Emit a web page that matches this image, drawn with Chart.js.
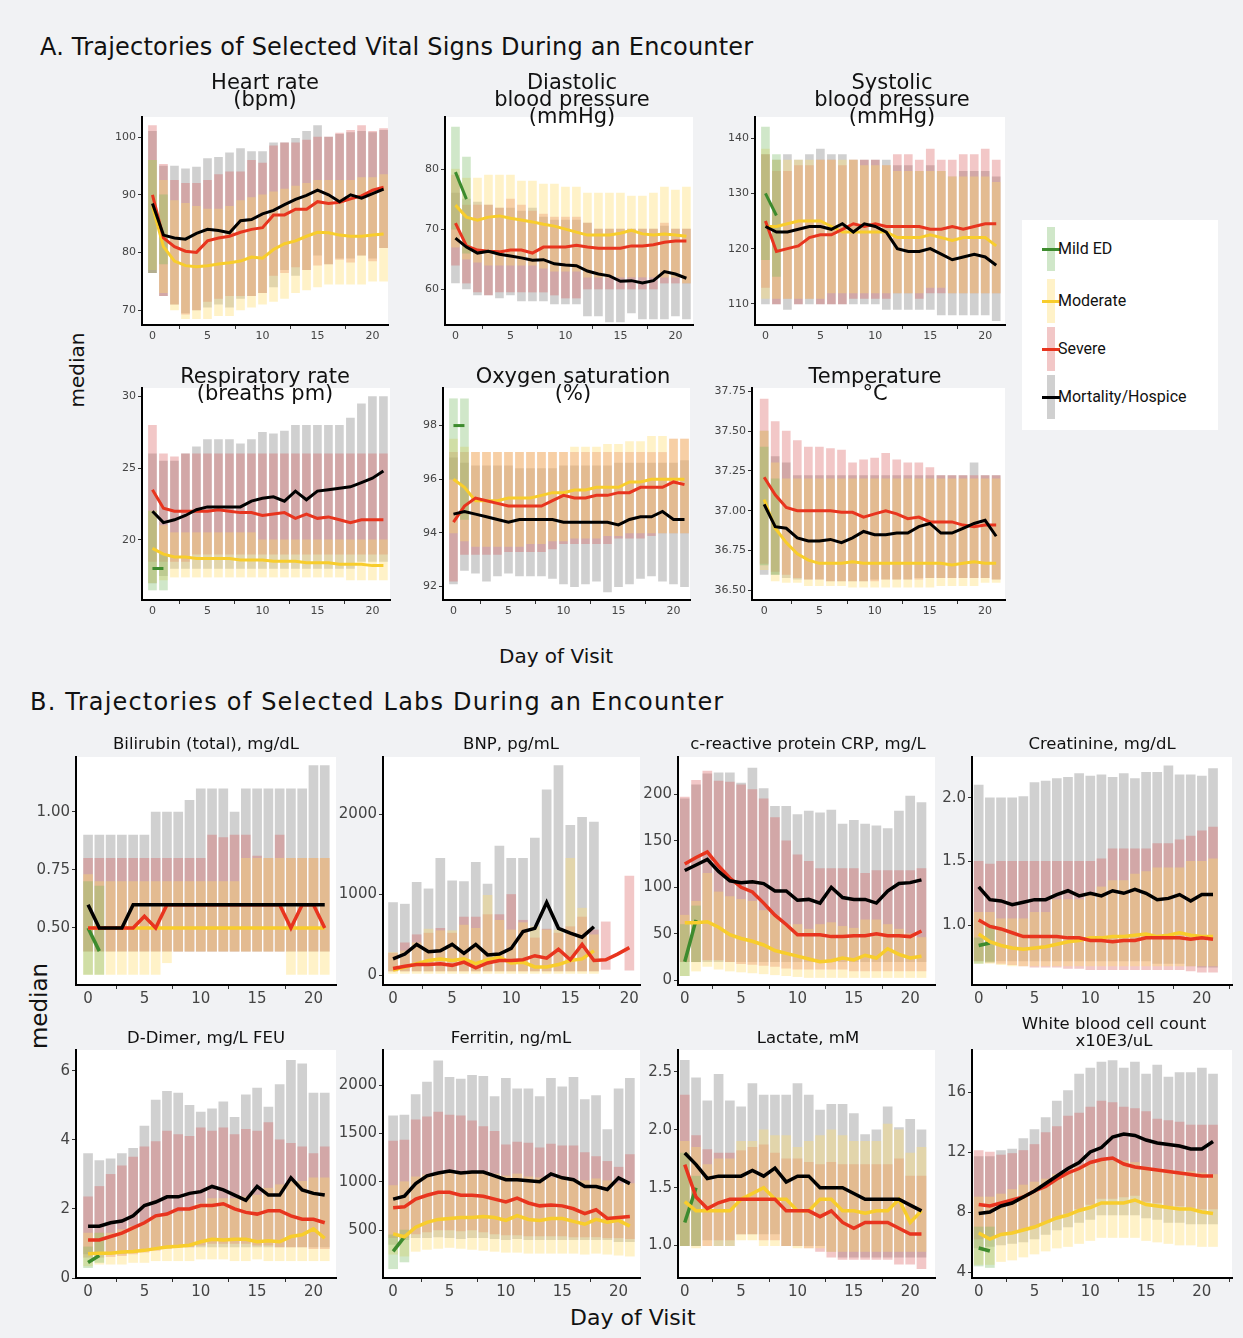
<!DOCTYPE html>
<html lang="en">
<head>
<meta charset="UTF-8">
<title>Trajectories of Vital Signs and Labs</title>
<script src="https://cdn.jsdelivr.net/npm/chart.js"></script>
<style>
  body { margin: 0; background: #f1f2f4; font-family: "DejaVu Sans", sans-serif; }
  #fig { position: relative; width: 1243px; height: 1338px; overflow: hidden; }
  .abs { position: absolute; }
  .ttl { position: absolute; text-align: center; color: #111; white-space: nowrap; }
  .ta { font-size: 21px; line-height: 17px; }
  .tb { font-size: 16.5px; line-height: 17px; }
  .head { position: absolute; font-size: 24px; color: #111; white-space: nowrap; }
  .lab { position: absolute; font-size: 20px; color: #111; }
  #legend { position: absolute; left: 1022px; top: 220px; width: 196px; height: 210px; background: #fff; font-family: Roboto, sans-serif; }
  .li { position: absolute; left: 20px; height: 44px; font-size: 16px; color: #111; }
  .li .bar { position: absolute; left: 5px; top: 0; width: 8px; height: 44px; }
  .li .ln { position: absolute; left: 0; top: 21px; width: 18px; height: 3px; }
  .li span { position: absolute; left: 16px; top: 12px; white-space: nowrap; }
</style>
</head>
<body>
<div id="fig">
  <div class="head" style="left:40px;top:33px;letter-spacing:0.2px;">A. Trajectories of Selected Vital Signs During an Encounter</div>
  <div class="head" style="left:30px;top:688px;letter-spacing:1.2px;">B. Trajectories of Selected Labs During an Encounter</div>
  <div class="lab" style="left:40px;top:358px;transform:rotate(-90deg);">median</div>
  <div class="lab" style="left:-4px;top:993px;transform:rotate(-90deg);font-size:23px;">median</div>
  <div class="lab" style="left:499px;top:644px;">Day of Visit</div>
  <div class="lab" style="left:570px;top:1305px;font-size:22px;">Day of Visit</div>
  <div id="legend"></div>
</div>
<script>
// ---- data: day 0..21, median + IQR (lo/hi) per severity group ----
const days = [0,1,2,3,4,5,6,7,8,9,10,11,12,13,14,15,16,17,18,19,20,21];
const groups = ['Mild ED', 'Moderate', 'Severe', 'Mortality/Hospice'];

// Heart rate
const hr_mort_med = [88.5,83,82.5,82.3,83.3,84,83.8,83.4,85.5,85.7,86.7,87.3,88.3,89.2,89.9,90.8,90,88.8,90,89.4,90.2,91];
const hr_sev_med = [90,82.5,81,80.2,80,82,82.5,82.8,83.5,84,84.3,86.5,86.5,87.5,87.5,88.8,88.5,88.7,89.3,89.8,90.8,91.3];
const hr_mod_med = [88,81,78.5,77.7,77.5,77.7,78,78.2,78.5,79.2,79,80.5,81.5,82,82.8,83.5,83.4,83,82.8,82.8,83,83.2];
const hr_mild_med = [];
const hr_mort_hi = [101,95,95,94.5,94.8,96.3,96.5,97.3,98,97.5,97.5,99,99,99.8,101,102,100,100.5,100.8,101,100.8,101.2];
const hr_mort_lo = [76.5,72.5,71,69.5,70,70.5,71,70.5,72,72.5,73,74,77,76,77,79.5,78,79,79,79.5,79,80.8];
const hr_sev_hi = [102,95.3,92.5,92,92,92.5,93.5,94,94,96,95.5,98.5,99,99,99.5,100,100,100.7,101.2,102,101,101.5];
const hr_sev_lo = [76.5,72.5,71,69.3,70,71.5,72,72.5,72.5,72.5,73,76,76.5,77.5,77,77.8,78,78.8,78.3,79.5,78.5,80.8];
const hr_mod_hi = [96,92.5,89,88.5,88,87.5,87.5,88,89,89.5,90,90.5,91,91.5,92,92.5,92.5,92.5,92.5,93,93,93.5];
const hr_mod_lo = [77,73,70,68.5,68.5,68.5,69,69,70,70.5,71,71.5,72,73,73.5,74,74.5,74.5,74.5,74.5,75,75];
const hr_mild_hi = [96,90];
const hr_mild_lo = [76.5,78];

// Diastolic BP
const dbp_mort_med = [68.5,67,66,66.3,65.8,65.5,65.2,64.8,64.9,64.2,64,63.9,63,62.5,62.2,61.3,61.4,61,61.4,62.9,62.5,61.8];
const dbp_sev_med = [71,67.2,66.5,66.3,66.2,66.5,66.5,66,67,67,67,67.3,67,66.8,66.8,66.8,67.2,67.2,67.4,67.8,68,68];
const dbp_mod_med = [74,72,71.5,72,72.2,71.8,71.5,71.2,70.8,70.5,70,69.5,69,69,69,69.3,69.8,69.2,69,69.2,69,68.8];
const dbp_mild_med = [79.5,75];
const dbp_mort_hi = [76,75,74.5,74,73.5,73.5,73,73.5,72,71.5,71.5,71.5,71,70,70,70,70,70,70,70.5,70,70];
const dbp_mort_lo = [61,60,59,59,58.5,59,58,58,58,57.5,57.5,57.5,55.5,55.5,54.5,54.5,56,55,55,55,55.5,55];
const dbp_sev_hi = [79,74,74,74,73.5,75,74,73,72.5,72,72,72,71,70,70,70,70,70,70,71,70,70];
const dbp_sev_lo = [64,61,59.5,59,59.5,59.5,59.5,59.5,59.5,59,58.5,58.5,60,60,60,60,60,60,60,61,61,61];
const dbp_mod_hi = [80,78.5,78.5,79,79,79,78,78,77.5,77.5,77,77,76,76,76,76,75.5,75.5,76,77,76.5,77];
const dbp_mod_lo = [67,65,64.5,64,64,64,64,64,63.5,63,63,63,62,62,62,62,62,62,62,62,62,61];
const dbp_mild_hi = [87,82];
const dbp_mild_lo = [70,66];

// Systolic BP
const sbp_mort_med = [124,123,123,123.5,124,124,123.5,124.5,123,124.5,124,123,120,119.5,119.5,120,119,118,118.5,119,118.5,117];
const sbp_sev_med = [125,119.5,120,120.5,122,122.5,122.5,123.5,124.5,124,124.5,124,124,124,124,123.5,123.5,124,123.5,124,124.5,124.5];
const sbp_mod_med = [124,124,124.5,125,125,125,124,123,123,123,123,123,122,122,122,122.5,122,121.5,122,122,122,120.5];
const sbp_mild_med = [130,126];
const sbp_mort_hi = [137,136,137,136,137,138,137,137,136,136,136,136,135,135,134,135,134,133,134,134,134,133];
const sbp_mort_lo = [110,110,109,110,110,110,110,110,110,110,110,109,109,109,109,109,108,108,108,108,108,107];
const sbp_sev_hi = [137,134,134,135,135,136,136,135,136,136,136,135,137,137,136,138,136,136,137,137,138,136];
const sbp_sev_lo = [113,110,111,110,111,110,110,110,111,111,111,111,112,112,111,112,112,112,112,112,112,112];
const sbp_mod_hi = [138,136,136,136,136,136,136,136,136,135,135,135,134,134,134,134,134,133,133,133,133,132];
const sbp_mod_lo = [111,111,111,111,111,111,112,112,112,112,112,112,112,112,112,113,113,112,112,112,112,112];
const sbp_mild_hi = [142,137];
const sbp_mild_lo = [118,115];

// Respiratory rate
const rr_mort_med = [22,21.2,21.4,21.7,22.1,22.3,22.3,22.3,22.3,22.7,22.9,23,22.7,23.4,22.8,23.4,23.5,23.6,23.7,24,24.3,24.8];
const rr_sev_med = [23.5,22.2,22,22,22,22,22.1,22,21.9,21.9,21.7,21.8,21.9,21.5,21.8,21.5,21.6,21.4,21.2,21.4,21.4,21.4];
const rr_mod_med = [19.4,19,18.8,18.8,18.7,18.7,18.7,18.7,18.6,18.6,18.6,18.5,18.5,18.5,18.4,18.4,18.4,18.3,18.3,18.3,18.2,18.2];
const rr_mild_med = [18,18];
const rr_mort_hi = [26,25.5,25.5,26,26.5,27,27,27,26.7,27,27.5,27.4,27.6,28,28,28,28,28,28.5,29.5,30,30];
const rr_mort_lo = [17,17.5,18,18,18,18,18,18,18,18,18,18,18,18,18,18,18,18,18,18.5,18.5,18.5];
const rr_sev_hi = [28,26,25.8,26,26,26,26,26,26,26,26,26,26,26,26,26,26,26,26,26,26,26];
const rr_sev_lo = [18.5,18.5,18.5,18.5,19,19,19,19,19,19,19,19,19,19,19,19,19,19,19,19,19,19];
const rr_mod_hi = [22,21,20.5,20.5,20.5,20.5,20.5,20.5,20.5,20.5,20,20,20,20,20,20,20,20,20,20,20,20];
const rr_mod_lo = [17,17.2,17.4,17.4,17.4,17.4,17.4,17.4,17.4,17.4,17.4,17.4,17.4,17.4,17.4,17.4,17.4,17.4,17.2,17.2,17.2,17.2];
const rr_mild_hi = [22,19];
const rr_mild_lo = [16.5,16.5];

// Oxygen saturation
const o2_mort_med = [94.7,94.8,94.7,94.6,94.5,94.4,94.5,94.5,94.5,94.5,94.4,94.4,94.4,94.4,94.4,94.3,94.5,94.6,94.6,94.8,94.5,94.5];
const o2_sev_med = [94.4,95,95.3,95.2,95.1,95,95,95,95,95.2,95.4,95.3,95.3,95.4,95.4,95.5,95.5,95.7,95.7,95.7,95.9,95.8];
const o2_mod_med = [96,95.7,95.2,95.2,95.2,95.3,95.3,95.3,95.4,95.5,95.5,95.6,95.6,95.7,95.7,95.7,95.9,95.9,96,96,96,96];
const o2_mild_med = [98,98];
const o2_mort_hi = [96.8,96.6,96.5,96.5,96.5,96.5,96.4,96.4,96.4,96.4,96.5,96.5,96.5,96.5,96.5,96.6,96.6,96.6,96.6,96.6,96.6,96.7];
const o2_mort_lo = [92.1,92.6,92.5,92.2,92.4,92.5,92.4,92.4,92.4,92.3,92.1,92,92.1,92.2,91.8,92,92.1,92.3,92.4,92.2,92.1,92];
const o2_sev_hi = [97,97,97,97,97,97,97,97,97,97,97,97,97,97,97,97,97,97,97,97,97.5,97.5];
const o2_sev_lo = [92.2,93.2,93.2,93.2,93.2,93.3,93.3,93.3,93.3,93.4,93.6,93.6,93.6,93.6,93.6,93.8,93.8,93.8,93.9,94,94,94];
const o2_mod_hi = [97.5,97.2,97,97,97,97,97,97,97,97,97,97.2,97.2,97.2,97.3,97.3,97.4,97.4,97.6,97.6,97.5,97.5];
const o2_mod_lo = [94,93.7,93.5,93.5,93.5,93.5,93.5,93.6,93.6,93.7,93.7,93.8,93.8,93.8,93.9,93.9,94,94,94,94,94,94];
const o2_mild_hi = [99,99];
const o2_mild_lo = [96,94.5];

// Temperature
const tmp_mort_med = [37.04,36.9,36.89,36.83,36.81,36.81,36.82,36.8,36.83,36.87,36.85,36.85,36.86,36.86,36.9,36.92,36.86,36.86,36.89,36.92,36.94,36.84];
const tmp_sev_med = [37.21,37.1,37.02,37,37,37,37,36.99,36.99,36.96,36.98,37,36.98,36.95,36.96,36.93,36.93,36.93,36.91,36.9,36.91,36.91];
const tmp_mod_med = [37.07,36.89,36.8,36.73,36.69,36.67,36.67,36.67,36.68,36.67,36.67,36.67,36.67,36.67,36.67,36.67,36.67,36.66,36.67,36.68,36.67,36.67];
const tmp_mild_med = [];
const tmp_mort_hi = [37.5,37.34,37.3,37.22,37.22,37.22,37.22,37.22,37.22,37.22,37.22,37.22,37.22,37.22,37.22,37.22,37.22,37.22,37.22,37.3,37.22,37.22];
const tmp_mort_lo = [36.6,36.6,36.58,36.57,36.57,36.57,36.56,36.56,36.56,36.56,36.57,36.57,36.57,36.57,36.58,36.58,36.58,36.58,36.58,36.58,36.58,36.57];
const tmp_sev_hi = [37.7,37.56,37.5,37.44,37.4,37.4,37.39,37.38,37.3,37.32,37.33,37.36,37.32,37.3,37.3,37.27,37.22,37.22,37.22,37.22,37.22,37.22];
const tmp_sev_lo = [36.67,36.62,36.6,36.58,36.57,36.57,36.56,36.56,36.56,36.56,36.56,36.57,36.57,36.57,36.57,36.58,36.58,36.58,36.58,36.58,36.58,36.57];
const tmp_mod_hi = [37.5,37.3,37.2,37.2,37.2,37.2,37.2,37.2,37.2,37.2,37.2,37.2,37.2,37.2,37.2,37.2,37.2,37.2,37.2,37.2,37.2,37.2];
const tmp_mod_lo = [36.63,36.56,36.55,36.55,36.53,36.53,36.53,36.53,36.52,36.52,36.52,36.52,36.52,36.52,36.52,36.52,36.53,36.53,36.53,36.53,36.55,36.55];
const tmp_mild_hi = [37.4,37.2];
const tmp_mild_lo = [36.66,36.6];

// Bilirubin
const bil_mort_med = [0.6,0.5,0.5,0.5,0.6,0.6,0.6,0.6,0.6,0.6,0.6,0.6,0.6,0.6,0.6,0.6,0.6,0.6,0.6,0.6,0.6,0.6];
const bil_sev_med = [0.5,0.5,0.5,0.5,0.5,0.55,0.5,0.6,0.6,0.6,0.6,0.6,0.6,0.6,0.6,0.6,0.6,0.6,0.5,0.6,0.6,0.5];
const bil_mod_med = [0.5,0.5,0.5,0.5,0.5,0.5,0.5,0.5,0.5,0.5,0.5,0.5,0.5,0.5,0.5,0.5,0.5,0.5,0.5,0.5,0.5,0.5];
const bil_mild_med = [0.5,0.4];
const bil_mort_hi = [0.9,0.9,0.9,0.9,0.9,0.9,1,1,1,1.05,1.1,1.1,1.1,1,1.1,1.1,1.1,1.1,1.1,1.1,1.2,1.2];
const bil_mort_lo = [0.4,0.4,0.4,0.4,0.4,0.4,0.4,0.4,0.4,0.4,0.4,0.4,0.4,0.4,0.4,0.4,0.4,0.4,0.4,0.4,0.4,0.4];
const bil_sev_hi = [0.8,0.8,0.8,0.8,0.8,0.8,0.8,0.8,0.8,0.8,0.8,0.9,0.89,0.9,0.9,0.81,0.8,0.9,0.8,0.8,0.8,0.8];
const bil_sev_lo = [0.4,0.4,0.4,0.4,0.4,0.4,0.4,0.4,0.4,0.4,0.4,0.4,0.4,0.4,0.4,0.4,0.4,0.4,0.4,0.4,0.4,0.4];
const bil_mod_hi = [0.73,0.7,0.7,0.7,0.7,0.7,0.7,0.7,0.7,0.7,0.7,0.7,0.7,0.7,0.8,0.8,0.8,0.8,0.8,0.8,0.8,0.8];
const bil_mod_lo = [0.3,0.3,0.3,0.3,0.3,0.3,0.3,0.35,0.4,0.4,0.4,0.4,0.4,0.4,0.4,0.4,0.4,0.4,0.3,0.3,0.3,0.3];
const bil_mild_hi = [0.7,0.68];
const bil_mild_lo = [0.3,0.3];

// BNP
const bnp_mort_med = [200,260,380,290,300,380,270,380,250,260,330,540,580,900,580,520,470,600];
const bnp_sev_med = [80,110,130,130,140,120,160,90,150,180,180,190,240,210,320,190,380,180,190,260,340];
const bnp_mod_med = [60,100,140,180,200,180,200,140,190,220,150,160,100,100,130,180,200,300];
const bnp_mild_med = [];
const bnp_mort_hi = [900,880,1150,1070,1450,1170,1160,1400,1130,1600,1450,1450,1700,2300,2600,1860,1960,1900];
const bnp_mort_lo = [50,50,50,50,50,50,50,50,50,50,50,50,50,50,50,50,50,50];
const bnp_sev_hi = [270,400,500,520,580,520,720,720,750,750,1000,680,460,570,520,600,720,560,660,null,1230];
const bnp_sev_lo = [50,50,50,50,50,50,50,50,50,50,50,50,50,50,50,50,50,50,70,null,60];
const bnp_mod_hi = [280,300,400,570,550,550,620,580,990,680,560,650,600,560,560,1450,830,500];
const bnp_mod_lo = [20,20,20,20,20,20,20,20,20,20,20,20,20,20,20,20,20,20];
const bnp_mild_hi = [];
const bnp_mild_lo = [];

// CRP
const crp_mort_med = [118,124,130,117,107,105,106,104,96,96,86,87,83,100,89,87,87,83,96,104,105,108];
const crp_sev_med = [125,132,138,123,110,100,95,83,70,60,49,49,49,47,47,48,48,50,48,48,47,53];
const crp_mod_med = [62,62,63,57,49,45,42,38,32,29,26,23,20,21,24,22,27,24,34,28,24,26];
const crp_mild_med = [20,65];
const crp_mort_hi = [195,210,222,223,223,212,228,206,187,187,178,182,180,183,168,172,168,166,163,182,198,191];
const crp_mort_lo = [20,20,20,20,20,20,20,20,20,20,20,20,20,20,20,20,20,20,20,20,20,20];
const crp_sev_hi = [197,215,225,214,213,210,205,195,175,150,135,128,120,120,120,120,115,118,118,118,118,120];
const crp_sev_lo = [20,20,22,22,20,18,17,16,15,13,12,12,12,12,12,10,10,10,10,10,10,10];
const crp_mod_hi = [70,85,115,95,90,87,85,75,70,60,60,55,60,62,58,56,65,65,60,55,50,46];
const crp_mod_lo = [5,10,15,12,10,9,8,7,6,5,4,3,3,3,3,3,3,3,3,3,3,3];
const crp_mild_hi = [60,80];
const crp_mild_lo = [5,20];

// Creatinine
const cre_mort_med = [1.3,1.2,1.19,1.16,1.18,1.2,1.2,1.24,1.27,1.23,1.25,1.23,1.27,1.25,1.28,1.25,1.2,1.21,1.24,1.19,1.24,1.24];
const cre_sev_med = [1.04,0.99,0.97,0.94,0.91,0.91,0.91,0.91,0.9,0.9,0.88,0.88,0.87,0.88,0.88,0.9,0.9,0.9,0.9,0.89,0.9,0.89];
const cre_mod_med = [0.93,0.87,0.84,0.82,0.81,0.82,0.83,0.85,0.87,0.88,0.9,0.9,0.91,0.91,0.92,0.93,0.91,0.92,0.94,0.92,0.91,0.91];
const cre_mild_med = [0.84,0.86];
const cre_mort_hi = [2.1,2.0,2.0,2.0,2.01,2.12,2.13,2.15,2.16,2.19,2.17,2.18,2.16,2.19,2.15,2.2,2.2,2.25,2.18,2.18,2.17,2.23];
const cre_mort_lo = [0.72,0.72,0.72,0.72,0.72,0.72,0.72,0.72,0.72,0.72,0.72,0.72,0.72,0.72,0.72,0.72,0.7,0.7,0.7,0.68,0.67,0.67];
const cre_sev_hi = [1.5,1.48,1.5,1.5,1.5,1.5,1.5,1.5,1.5,1.5,1.5,1.52,1.6,1.6,1.6,1.6,1.64,1.64,1.67,1.7,1.74,1.77];
const cre_sev_lo = [0.72,0.71,0.7,0.69,0.68,0.67,0.67,0.67,0.66,0.66,0.65,0.65,0.65,0.65,0.65,0.65,0.65,0.65,0.65,0.64,0.63,0.63];
const cre_mod_hi = [1.1,1.1,1.05,1.05,1.05,1.1,1.1,1.2,1.2,1.2,1.25,1.3,1.35,1.35,1.4,1.42,1.45,1.45,1.45,1.5,1.5,1.52];
const cre_mod_lo = [0.7,0.7,0.69,0.68,0.68,0.68,0.68,0.68,0.68,0.68,0.68,0.68,0.68,0.68,0.68,0.68,0.68,0.68,0.68,0.68,0.68,0.68];
const cre_mild_hi = [0.9,1.0];
const cre_mild_lo = [0.7,0.71];

// D-Dimer
const dd_mort_med = [1.5,1.5,1.6,1.65,1.8,2.1,2.2,2.35,2.35,2.45,2.5,2.65,2.55,2.4,2.25,2.65,2.4,2.4,2.9,2.55,2.45,2.4];
const dd_sev_med = [1.1,1.1,1.2,1.3,1.45,1.6,1.8,1.85,2.0,2.0,2.1,2.1,2.15,2.0,1.9,1.85,1.95,1.95,1.8,1.7,1.7,1.6];
const dd_mod_med = [0.7,0.72,0.72,0.75,0.77,0.8,0.85,0.9,0.92,0.95,1.05,1.12,1.1,1.12,1.12,1.05,1.08,1.05,1.2,1.25,1.42,1.15];
const dd_mild_med = [0.45,0.65];
const dd_mort_hi = [3.6,3.4,3.45,3.6,3.75,4.4,5.15,5.4,5.35,5.0,4.8,4.9,5.1,4.65,5.3,5.5,4.95,5.6,6.3,6.2,5.35,5.35];
const dd_mort_lo = [0.7,0.7,0.7,0.7,0.75,0.8,0.85,0.9,0.9,0.9,0.9,0.9,0.9,0.9,0.9,0.9,0.9,0.9,0.9,0.9,0.9,0.9];
const dd_sev_hi = [2.35,2.65,3.0,3.25,3.5,3.8,3.95,4.25,4.15,4.1,4.35,4.25,4.35,4.15,4.3,4.25,4.5,4.0,3.9,3.8,3.6,3.8];
const dd_sev_lo = [0.6,0.6,0.62,0.65,0.7,0.75,0.8,0.85,0.9,0.9,0.95,1.0,1.0,1.0,1.0,0.95,0.95,0.9,0.9,0.9,0.85,0.85];
const dd_mod_hi = [1.3,1.3,1.3,1.4,1.5,1.6,1.75,1.85,1.9,2.0,2.15,2.3,2.3,2.3,2.35,2.4,2.6,2.7,2.8,2.8,2.9,2.9];
const dd_mod_lo = [0.35,0.4,0.4,0.4,0.45,0.45,0.5,0.5,0.5,0.5,0.55,0.55,0.55,0.5,0.5,0.55,0.5,0.5,0.5,0.5,0.5,0.5];
const dd_mild_hi = [0.9,1.3];
const dd_mild_lo = [0.3,0.45];

// Ferritin
const fer_mort_med = [820,850,980,1060,1090,1110,1090,1100,1100,1060,1020,1020,1010,1000,1080,1040,1020,950,950,920,1040,980];
const fer_sev_med = [730,740,820,860,890,890,860,860,850,820,790,830,780,750,760,750,720,670,710,620,630,640];
const fer_mod_med = [460,430,530,580,610,620,630,630,640,630,600,650,610,600,620,620,590,560,610,580,600,540];
const fer_mild_med = [280,430];
const fer_mort_hi = [1680,1690,1900,2030,2250,2080,2060,2100,2090,1880,2070,1960,1960,1880,2070,1980,2080,1850,1890,1540,1960,2070];
const fer_mort_lo = [350,400,420,420,430,420,410,420,420,410,400,410,400,400,400,400,400,400,400,400,380,380];
const fer_sev_hi = [1420,1430,1640,1670,1720,1690,1680,1630,1570,1520,1380,1410,1400,1350,1390,1370,1370,1300,1260,1210,1150,1280];
const fer_sev_lo = [420,420,460,480,500,500,490,500,480,460,450,450,440,440,440,440,430,430,430,420,420,410];
const fer_mod_hi = [960,1000,1050,1070,1080,1090,1100,1110,1100,1080,1060,1080,1050,1040,1040,1050,1020,1010,1030,1010,980,980];
const fer_mod_lo = [250,230,280,300,310,320,310,300,290,280,270,270,260,260,260,260,260,250,260,250,240,230];
const fer_mild_hi = [450,500];
const fer_mild_lo = [100,170];

// Lactate
const lac_mort_med = [1.8,1.7,1.58,1.6,1.6,1.6,1.65,1.6,1.67,1.55,1.6,1.6,1.5,1.5,1.5,1.45,1.4,1.4,1.4,1.4,1.35,1.3];
const lac_sev_med = [1.7,1.42,1.32,1.37,1.4,1.4,1.4,1.4,1.4,1.3,1.3,1.3,1.25,1.3,1.2,1.15,1.2,1.2,1.2,1.15,1.1,1.1];
const lac_mod_med = [1.38,1.3,1.3,1.3,1.3,1.4,1.45,1.5,1.4,1.4,1.3,1.3,1.4,1.4,1.3,1.3,1.28,1.3,1.3,1.4,1.2,1.3];
const lac_mild_med = [1.2,1.5];
const lac_mort_hi = [2.6,2.45,2.25,2.48,2.25,2.2,2.4,2.3,2.3,2.3,2.4,2.3,2.17,2.22,2.22,2.14,1.96,2.0,2.2,2.02,2.09,2.0];
const lac_mort_lo = [1.0,1.0,1.05,1.0,1.0,1.1,1.1,1.1,1.1,1.0,1.0,1.0,1.0,0.95,0.9,0.9,0.9,0.9,0.9,0.9,0.9,0.9];
const lac_sev_hi = [2.3,1.95,1.83,1.8,1.8,1.82,1.85,1.87,1.8,1.75,1.75,1.72,1.7,1.72,1.7,1.7,1.7,1.7,1.7,1.75,1.6,1.6];
const lac_sev_lo = [1.0,1.0,1.0,1.05,1.05,1.1,1.1,1.05,1.05,1.0,1.0,0.98,0.95,0.9,0.88,0.88,0.88,0.88,0.88,0.84,0.84,0.8];
const lac_mod_hi = [1.9,1.85,1.7,1.75,1.75,1.9,1.9,2.0,1.95,1.95,1.85,1.9,1.95,2.0,1.95,1.9,1.9,1.9,2.05,2.0,1.8,1.85];
const lac_mod_lo = [1.0,0.98,1.0,1.0,1.0,1.05,1.05,1.0,1.0,1.0,0.98,0.98,0.98,0.95,0.95,0.95,0.95,0.95,0.95,0.95,0.95,0.95];
const lac_mild_hi = [1.8,1.6];
const lac_mild_lo = [1.0,1.0];

// White blood cell count
const wbc_mort_med = [7.9,8.0,8.4,8.6,9.0,9.4,9.9,10.4,10.9,11.3,12.0,12.3,13.0,13.2,13.1,12.8,12.6,12.5,12.4,12.2,12.2,12.7];
const wbc_sev_med = [8.5,8.4,8.6,8.8,9.0,9.4,9.7,10.2,10.6,10.9,11.3,11.5,11.6,11.2,11.0,10.9,10.8,10.7,10.6,10.5,10.4,10.4];
const wbc_mod_med = [6.6,6.2,6.5,6.6,6.8,7.0,7.3,7.6,7.8,8.1,8.3,8.6,8.6,8.6,8.8,8.5,8.4,8.3,8.2,8.2,8.0,7.9];
const wbc_mild_med = [5.6,5.4];
const wbc_mort_hi = [11.7,11.7,12.1,12.2,12.9,13.5,14.3,15.4,16.1,17.2,17.6,18.0,18.1,17.6,18.0,17.2,17.8,17.0,17.3,17.3,17.6,17.2];
const wbc_mort_lo = [5.6,5.7,5.8,5.9,6.0,6.2,6.5,6.8,7.0,7.3,7.5,7.8,7.8,7.8,7.8,7.6,7.5,7.3,7.3,7.2,7.2,7.2];
const wbc_sev_hi = [12.1,12.0,11.8,11.9,12.1,12.5,13.3,13.7,14.4,14.6,15.0,15.4,15.3,15.0,14.9,14.7,14.2,14.1,14.0,13.8,13.8,13.8];
const wbc_sev_lo = [6.2,6.3,6.5,6.6,6.8,7.0,7.3,7.6,7.9,8.2,8.5,8.9,8.9,9.0,9.1,8.7,8.6,8.4,8.4,8.3,8.2,8.2];
const wbc_mod_hi = [9.0,9.0,9.2,9.5,9.8,10.0,10.2,10.5,10.7,11.0,11.2,11.4,11.4,11.4,11.3,11.0,10.9,10.8,10.7,10.7,10.6,10.5];
const wbc_mod_lo = [4.5,4.5,4.7,4.8,5.0,5.2,5.4,5.6,5.7,5.9,6.1,6.3,6.3,6.3,6.3,6.1,6.0,5.9,5.8,5.8,5.7,5.7];
const wbc_mild_hi = [7.0,7.0];
const wbc_mild_lo = [4.4,4.3];

// ---- styles ----
const barCol = ['rgba(120,185,100,0.35)', 'rgba(255,222,110,0.38)', 'rgba(215,85,85,0.33)', 'rgba(150,150,150,0.45)'];
const lineCol = ['#3d8b2e', '#f8cd2c', '#e8341e', '#000000'];
const PAD = 12; // room above the plot area for the top tick label

function pts(arr) { return arr.map((v, i) => ({ x: days[i], y: v })); }
function rng(lo, hi) { return lo.map((v, i) => ({ x: days[i], y: (v == null || hi[i] == null) ? null : [v, hi[i]] })); }

const whiteBg = {
  id: 'whiteBg',
  beforeDraw(c) {
    const a = c.chartArea, ctx = c.ctx;
    ctx.save(); ctx.fillStyle = '#fff';
    ctx.fillRect(a.left, a.top, a.right - a.left, a.bottom - a.top);
    ctx.restore();
  }
};

function panel(o) {
  const fig = document.getElementById('fig');
  const W = o.w + o.yw + 10, H = o.h + o.xh + PAD;
  const box = document.createElement('div');
  box.className = 'abs';
  box.style.left = (o.left - o.yw) + 'px'; box.style.top = (o.top - PAD) + 'px';
  box.style.width = W + 'px'; box.style.height = H + 'px';
  const cv = document.createElement('canvas');
  cv.width = W; cv.height = H;
  cv.style.width = W + 'px'; cv.style.height = H + 'px';
  box.appendChild(cv);
  fig.appendChild(box);

  const t = document.createElement('div');
  t.className = 'ttl ' + o.tcls;
  t.style.left = (o.tx - 200) + 'px'; t.style.width = '400px'; t.style.top = o.ty + 'px';
  t.innerHTML = o.title;
  fig.appendChild(t);

  const s = o.s, bt = o.bt;
  const ds = [];
  // bars: mortality first, then severe, moderate, mild
  [[s[3], 3], [s[2], 2], [s[1], 1], [s[0], 0]].forEach(([g, k]) => {
    ds.push({ type: 'bar', data: rng(g.lo, g.hi), backgroundColor: barCol[k], grouped: false,
              barThickness: bt, borderWidth: 0, order: 10 + k });
  });
  [[s[0], 0, 3], [s[1], 1, 2], [s[2], 2, 1], [s[3], 3, 0]].forEach(([g, k, ord]) => {
    ds.push({ type: 'line', data: pts(g.med), borderColor: lineCol[k], borderWidth: o.lw,
              pointRadius: 0, fill: false, tension: 0, spanGaps: false, order: ord });
  });

  new Chart(cv, {
    data: { datasets: ds },
    options: {
      responsive: false, maintainAspectRatio: false, animation: false,
      layout: { padding: { top: PAD, right: 10, left: 0, bottom: 0 } },
      plugins: { legend: { display: false }, tooltip: { enabled: false } },
      scales: {
        x: {
          type: 'linear', min: o.xmin, max: o.xmax, offset: false,
          grid: { display: true, drawOnChartArea: false, drawTicks: true, tickLength: 4, color: '#333' },
          border: { display: true, color: '#000', width: 2 },
          ticks: { color: '#444', font: { size: o.fs, family: 'DejaVu Sans' }, padding: 1, maxRotation: 0 },
          afterBuildTicks: sc => { sc.ticks = [0, 5, 10, 15, 20].map(v => ({ value: v })); },
          afterFit: sc => { sc.height = o.xh; }
        },
        y: {
          min: o.ymin, max: o.ymax,
          grid: { display: true, drawOnChartArea: false, drawTicks: true, tickLength: 4, color: '#333' },
          border: { display: true, color: '#000', width: 2 },
          ticks: { color: '#444', font: { size: o.fs, family: 'DejaVu Sans' }, padding: 2,
                   callback: v => o.fmt ? o.fmt(v) : v },
          afterBuildTicks: sc => { sc.ticks = o.yt.map(v => ({ value: v })); },
          afterFit: sc => { sc.width = o.yw; }
        }
      }
    },
    plugins: [whiteBg]
  });
}

function G(med, lo, hi) { return { med, lo, hi }; }

const A = { yw: 42, xh: 22, fs: 11, bt: 8, lw: 3, tcls: 'ta' };
const B = { yw: 46, xh: 26, fs: 15, bt: 9, lw: 3.5, tcls: 'tb' };

panel({ ...A, left: 142, top: 117, w: 246, h: 208, xmin: -0.95, xmax: 21.4, ymin: 67.4, ymax: 103.5, yt: [70, 80, 90, 100],
  title: 'Heart rate<br>(bpm)', tx: 265, ty: 74,
  s: [G(hr_mild_med, hr_mild_lo, hr_mild_hi), G(hr_mod_med, hr_mod_lo, hr_mod_hi), G(hr_sev_med, hr_sev_lo, hr_sev_hi), G(hr_mort_med, hr_mort_lo, hr_mort_hi)] });
panel({ ...A, left: 445, top: 117, w: 248, h: 208, xmin: -0.95, xmax: 21.6, ymin: 54, ymax: 88.7, yt: [60, 70, 80],
  title: 'Diastolic<br>blood pressure<br>(mmHg)', tx: 572, ty: 74,
  s: [G(dbp_mild_med, dbp_mild_lo, dbp_mild_hi), G(dbp_mod_med, dbp_mod_lo, dbp_mod_hi), G(dbp_sev_med, dbp_sev_lo, dbp_sev_hi), G(dbp_mort_med, dbp_mort_lo, dbp_mort_hi)] });
panel({ ...A, left: 755, top: 117, w: 250, h: 208, xmin: -0.95, xmax: 21.8, ymin: 106.2, ymax: 143.8, yt: [110, 120, 130, 140],
  title: 'Systolic<br>blood pressure<br>(mmHg)', tx: 892, ty: 74,
  s: [G(sbp_mild_med, sbp_mild_lo, sbp_mild_hi), G(sbp_mod_med, sbp_mod_lo, sbp_mod_hi), G(sbp_sev_med, sbp_sev_lo, sbp_sev_hi), G(sbp_mort_med, sbp_mort_lo, sbp_mort_hi)] });
panel({ ...A, left: 142, top: 388, w: 248, h: 212, xmin: -0.95, xmax: 21.6, ymin: 15.8, ymax: 30.6, yt: [20, 25, 30],
  title: 'Respiratory rate<br>(breaths pm)', tx: 265, ty: 368,
  s: [G(rr_mild_med, rr_mild_lo, rr_mild_hi), G(rr_mod_med, rr_mod_lo, rr_mod_hi), G(rr_sev_med, rr_sev_lo, rr_sev_hi), G(rr_mort_med, rr_mort_lo, rr_mort_hi)] });
panel({ ...A, left: 443, top: 388, w: 247, h: 212, xmin: -0.95, xmax: 21.5, ymin: 91.5, ymax: 99.4, yt: [92, 94, 96, 98],
  title: 'Oxygen saturation<br>(%)', tx: 573, ty: 368,
  s: [G(o2_mild_med, o2_mild_lo, o2_mild_hi), G(o2_mod_med, o2_mod_lo, o2_mod_hi), G(o2_sev_med, o2_sev_lo, o2_sev_hi), G(o2_mort_med, o2_mort_lo, o2_mort_hi)] });
panel({ ...A, left: 752, top: 388, w: 253, h: 212, xmin: -1.1, xmax: 21.8, ymin: 36.44, ymax: 37.77, yt: [36.5, 36.75, 37, 37.25, 37.5, 37.75],
  fmt: v => v.toFixed(2), title: 'Temperature<br>°C', tx: 875, ty: 368,
  s: [G(tmp_mild_med, tmp_mild_lo, tmp_mild_hi), G(tmp_mod_med, tmp_mod_lo, tmp_mod_hi), G(tmp_sev_med, tmp_sev_lo, tmp_sev_hi), G(tmp_mort_med, tmp_mort_lo, tmp_mort_hi)] });

panel({ ...B, left: 76, top: 757, w: 260, h: 228, xmin: -1.07, xmax: 22.0, ymin: 0.254, ymax: 1.237, yt: [0.5, 0.75, 1.0],
  fmt: v => v.toFixed(2), title: 'Bilirubin (total), mg/dL', tx: 206, ty: 735,
  s: [G(bil_mild_med, bil_mild_lo, bil_mild_hi), G(bil_mod_med, bil_mod_lo, bil_mod_hi), G(bil_sev_med, bil_sev_lo, bil_sev_hi), G(bil_mort_med, bil_mort_lo, bil_mort_hi)] });
panel({ ...B, left: 383, top: 757, w: 257, h: 228, xmin: -0.85, xmax: 20.9, ymin: -124, ymax: 2708, yt: [0, 1000, 2000],
  title: 'BNP, pg/mL', tx: 511, ty: 735,
  s: [G(bnp_mild_med, bnp_mild_lo, bnp_mild_hi), G(bnp_mod_med, bnp_mod_lo, bnp_mod_hi), G(bnp_sev_med, bnp_sev_lo, bnp_sev_hi), G(bnp_mort_med, bnp_mort_lo, bnp_mort_hi)] });
panel({ ...B, left: 678, top: 757, w: 257, h: 228, xmin: -0.6, xmax: 22.2, ymin: -5, ymax: 240, yt: [0, 50, 100, 150, 200],
  title: 'c-reactive protein CRP, mg/L', tx: 808, ty: 735,
  s: [G(crp_mild_med, crp_mild_lo, crp_mild_hi), G(crp_mod_med, crp_mod_lo, crp_mod_hi), G(crp_sev_med, crp_sev_lo, crp_sev_hi), G(crp_mort_med, crp_mort_lo, crp_mort_hi)] });
panel({ ...B, left: 972, top: 757, w: 260, h: 228, xmin: -0.6, xmax: 22.7, ymin: 0.53, ymax: 2.32, yt: [1.0, 1.5, 2.0],
  fmt: v => v.toFixed(1), title: 'Creatinine, mg/dL', tx: 1102, ty: 735,
  s: [G(cre_mild_med, cre_mild_lo, cre_mild_hi), G(cre_mod_med, cre_mod_lo, cre_mod_hi), G(cre_sev_med, cre_sev_lo, cre_sev_hi), G(cre_mort_med, cre_mort_lo, cre_mort_hi)] });

panel({ ...B, left: 76, top: 1050, w: 260, h: 228, xmin: -1.07, xmax: 22.0, ymin: 0, ymax: 6.6, yt: [0, 2, 4, 6],
  title: 'D-Dimer, mg/L FEU', tx: 206, ty: 1029,
  s: [G(dd_mild_med, dd_mild_lo, dd_mild_hi), G(dd_mod_med, dd_mod_lo, dd_mod_hi), G(dd_sev_med, dd_sev_lo, dd_sev_hi), G(dd_mort_med, dd_mort_lo, dd_mort_hi)] });
panel({ ...B, left: 383, top: 1050, w: 257, h: 228, xmin: -0.9, xmax: 21.9, ymin: 4, ymax: 2362, yt: [500, 1000, 1500, 2000],
  title: 'Ferritin, ng/mL', tx: 511, ty: 1029,
  s: [G(fer_mild_med, fer_mild_lo, fer_mild_hi), G(fer_mod_med, fer_mod_lo, fer_mod_hi), G(fer_sev_med, fer_sev_lo, fer_sev_hi), G(fer_mort_med, fer_mort_lo, fer_mort_hi)] });
panel({ ...B, left: 678, top: 1050, w: 257, h: 228, xmin: -0.6, xmax: 22.2, ymin: 0.72, ymax: 2.69, yt: [1.0, 1.5, 2.0, 2.5],
  fmt: v => v.toFixed(1), title: 'Lactate, mM', tx: 808, ty: 1029,
  s: [G(lac_mild_med, lac_mild_lo, lac_mild_hi), G(lac_mod_med, lac_mod_lo, lac_mod_hi), G(lac_sev_med, lac_sev_lo, lac_sev_hi), G(lac_mort_med, lac_mort_lo, lac_mort_hi)] });
panel({ ...B, left: 972, top: 1050, w: 260, h: 228, xmin: -0.6, xmax: 22.7, ymin: 3.6, ymax: 18.8, yt: [4, 8, 12, 16],
  title: 'White blood cell count<br>x10E3/uL', tx: 1114, ty: 1015,
  s: [G(wbc_mild_med, wbc_mild_lo, wbc_mild_hi), G(wbc_mod_med, wbc_mod_lo, wbc_mod_hi), G(wbc_sev_med, wbc_sev_lo, wbc_sev_hi), G(wbc_mort_med, wbc_mort_lo, wbc_mort_hi)] });

// legend
const leg = document.getElementById('legend');
[7, 59, 107, 155].forEach((y, i) => {
  const d = document.createElement('div');
  d.className = 'li'; d.style.top = y + 'px';
  d.innerHTML = '<div class="bar" style="background:' + barCol[i] + '"></div>' +
                '<div class="ln" style="background:' + lineCol[i] + '"></div><span>' + groups[i] + '</span>';
  leg.appendChild(d);
});
</script>
</body>
</html>
